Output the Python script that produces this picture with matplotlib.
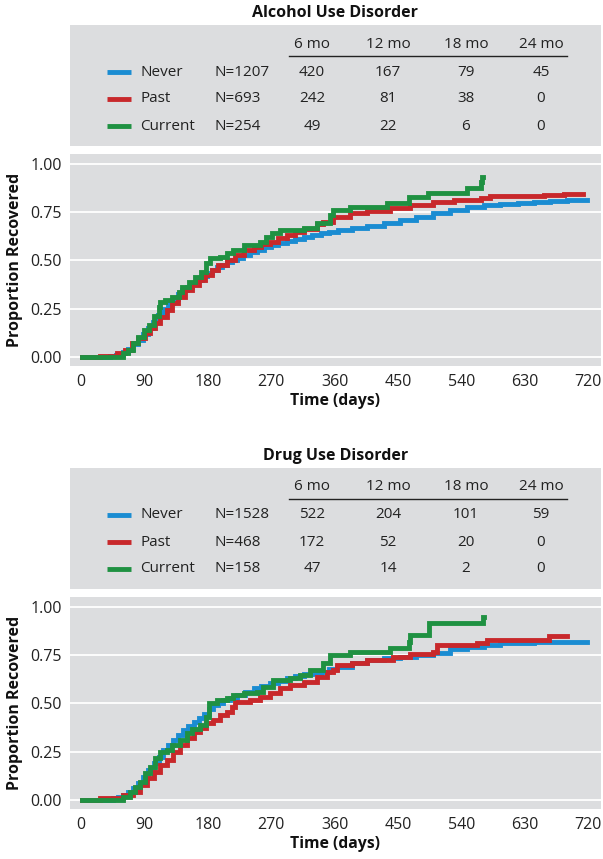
import matplotlib
matplotlib.use("Agg")
import matplotlib.pyplot as plt

plt.rcParams['font.family'] = ['Open Sans', 'DejaVu Sans']

# ---------------- data ----------------
groups = ["Never", "Past", "Current"]
colors = ["#1a8cd2", "#c8282b", "#1f9142"]
col_headers = ["6 mo", "12 mo", "18 mo", "24 mo"]

alc_title = "Alcohol Use Disorder"
alc_n = [1207, 693, 254]
alc_risk = [[420, 167, 79, 45], [242, 81, 38, 0], [49, 22, 6, 0]]

drug_title = "Drug Use Disorder"
drug_n = [1528, 468, 158]
drug_risk = [[522, 204, 101, 59], [172, 52, 20, 0], [47, 14, 2, 0]]

alc_never_t = [1, 41, 50, 60, 67, 74, 81, 88, 95, 102, 109, 116, 123, 130, 137, 144, 151, 158, 165, 172,
               179, 186, 193, 200, 207, 214, 221, 230, 240, 250, 260, 270, 280, 292, 304, 316, 328, 340,
               352, 365, 385, 406, 430, 453, 476, 500, 524, 548, 572, 595, 620, 643, 666, 690, 718]
alc_never_y = [0, 0.005, 0.012, 0.025, 0.04, 0.065, 0.09, 0.12, 0.15, 0.18, 0.215, 0.25, 0.278, 0.30,
               0.325, 0.345, 0.365, 0.385, 0.40, 0.418, 0.435, 0.45, 0.465, 0.478, 0.49, 0.502, 0.515,
               0.528, 0.542, 0.555, 0.568, 0.58, 0.59, 0.602, 0.612, 0.622, 0.632, 0.642, 0.65, 0.658,
               0.667, 0.677, 0.692, 0.71, 0.727, 0.745, 0.762, 0.776, 0.788, 0.795, 0.8, 0.805, 0.81,
               0.815, 0.815]

alc_past_t = [1, 27, 51, 62, 72, 81, 91, 98, 105, 112, 122, 129, 138, 148, 157, 167, 176, 186, 195, 207,
              219, 232, 245, 256, 268, 280, 292, 304, 316, 335, 344, 358, 382, 406, 439, 467, 500, 529,
              567, 581, 643, 657, 685, 712]
alc_past_y = [0, 0.007, 0.019, 0.036, 0.07, 0.097, 0.123, 0.149, 0.174, 0.209, 0.244, 0.278, 0.313,
              0.347, 0.373, 0.399, 0.425, 0.45, 0.477, 0.503, 0.528, 0.552, 0.572, 0.585, 0.598, 0.615,
              0.632, 0.647, 0.662, 0.69, 0.70, 0.727, 0.744, 0.758, 0.77, 0.788, 0.805, 0.813, 0.822,
              0.834, 0.834, 0.839, 0.845, 0.845]

alc_curr_t = [1, 53, 60, 67, 74, 81, 89, 96, 103, 110, 112, 119, 129, 139, 143, 153, 162, 171, 178, 183,
              197, 207, 216, 231, 254, 262, 271, 283, 316, 335, 354, 358, 382, 434, 465, 493, 548, 567,
              569, 571]
alc_curr_y = [0, 0.0, 0.019, 0.036, 0.07, 0.105, 0.14, 0.166, 0.21, 0.26, 0.287, 0.295, 0.313, 0.339,
              0.364, 0.39, 0.416, 0.442, 0.485, 0.511, 0.52, 0.537, 0.554, 0.58, 0.598, 0.62, 0.64, 0.66,
              0.667, 0.693, 0.735, 0.76, 0.775, 0.796, 0.83, 0.848, 0.874, 0.908, 0.934, 0.934]

drug_never_t = [1, 46, 53, 60, 67, 74, 81, 88, 95, 103, 110, 117, 124, 131, 138, 145, 152, 160, 167, 174,
                181, 188, 195, 202, 211, 221, 233, 245, 256, 268, 280, 292, 304, 316, 328, 340, 352, 363,
                385, 406, 430, 453, 476, 500, 524, 548, 572, 595, 620, 643, 680, 718]
drug_never_y = [0, 0.009, 0.017, 0.026, 0.04, 0.06, 0.09, 0.12, 0.155, 0.19, 0.225, 0.259, 0.285, 0.31,
                0.336, 0.362, 0.384, 0.405, 0.427, 0.448, 0.47, 0.491, 0.504, 0.517, 0.53, 0.544, 0.562,
                0.579, 0.592, 0.604, 0.617, 0.63, 0.64, 0.651, 0.658, 0.665, 0.677, 0.69, 0.708, 0.725,
                0.735, 0.743, 0.753, 0.763, 0.78, 0.795, 0.803, 0.812, 0.816, 0.82, 0.82, 0.82]

drug_past_t = [1, 27, 46, 60, 74, 84, 93, 103, 112, 122, 131, 141, 150, 160, 169, 178, 188, 197, 207, 214,
               219, 240, 254, 268, 283, 297, 316, 335, 349, 358, 363, 385, 406, 443, 467, 500, 505, 562,
               576, 664, 690]
drug_past_y = [0, 0.009, 0.012, 0.026, 0.043, 0.078, 0.112, 0.147, 0.181, 0.207, 0.25, 0.284, 0.319,
               0.353, 0.371, 0.397, 0.414, 0.44, 0.457, 0.483, 0.509, 0.518, 0.535, 0.553, 0.579, 0.596,
               0.613, 0.639, 0.661, 0.674, 0.70, 0.712, 0.725, 0.743, 0.756, 0.769, 0.803, 0.812, 0.829,
               0.85, 0.85]

drug_curr_t = [1, 53, 60, 70, 77, 84, 91, 98, 105, 112, 122, 129, 141, 150, 157, 169, 178, 181, 193, 207,
               216, 231, 250, 259, 273, 297, 311, 325, 344, 354, 382, 439, 465, 467, 494, 570, 572]
drug_curr_y = [0, 0, 0.017, 0.043, 0.069, 0.095, 0.138, 0.172, 0.216, 0.25, 0.259, 0.284, 0.31, 0.345,
               0.37, 0.388, 0.431, 0.50, 0.517, 0.526, 0.543, 0.553, 0.561, 0.587, 0.622, 0.63, 0.648,
               0.674, 0.708, 0.751, 0.769, 0.786, 0.82, 0.855, 0.915, 0.95, 0.95]

x_ticks = [0, 90, 180, 270, 360, 450, 540, 630, 720]
y_ticks = [0.0, 0.25, 0.50, 0.75, 1.00]
y_tick_labels = ["0.00", "0.25", "0.50", "0.75", "1.00"]

# ---------------- layout ----------------
W, H = 603, 859
BG = "#dcdddf"
TXT = "#222222"
fig = plt.figure(figsize=(W / 100, H / 100), dpi=100)
fig.patch.set_facecolor("white")

def frac(px_left, px_top, px_w, px_h):
    return [px_left / W, 1 - (px_top + px_h) / H, px_w / W, px_h / H]

def draw_table(top, title, ns, risk):
    box_h = 121
    ax = fig.add_axes(frac(70, top, 531, box_h))
    ax.set_facecolor(BG)
    for s in ax.spines.values():
        s.set_visible(False)
    ax.set_xticks([]); ax.set_yticks([])
    ax.set_xlim(70, 601)
    ax.set_ylim(box_h, 0)
    fig.text(335.5 / W, 1 - (top - 12) / H, title, ha="center", va="center",
             fontsize=11.5, fontweight="bold", color="#111111")
    col_x = [312, 388, 466, 541]
    for cx, h in zip(col_x, col_headers):
        ax.text(cx, 19, h, ha="center", va="center", fontsize=11, color=TXT)
    ax.plot([289, 567], [31, 31], color=TXT, lw=1.0)
    row_y = [47, 74, 101]
    for ry, g, c, n, r in zip(row_y, groups, colors, ns, risk):
        ax.plot([107, 131], [ry, ry], color=c, lw=3.5, solid_capstyle="butt")
        ax.text(140, ry, g, ha="left", va="center", fontsize=11, color=TXT)
        ax.text(214, ry, f"N={n}", ha="left", va="center", fontsize=11, color=TXT)
        for cx, v in zip(col_x, r):
            ax.text(cx, ry, str(v), ha="center", va="center", fontsize=11, color=TXT)

def draw_km(top, series):
    ax = fig.add_axes(frac(70, top, 531, 212))
    ax.set_facecolor(BG)
    for s in ax.spines.values():
        s.set_visible(False)
    ax.set_xlim(-15.6, 738)
    ax.set_ylim(-0.047, 1.052)
    for yt in y_ticks:
        ax.axhline(yt, color="white", lw=1.3, zorder=1)
    for (t, y), c in zip(series, colors):
        ax.step(t, y, where="post", color=c, lw=3.5, zorder=3, solid_joinstyle="miter")
    ax.set_xticks(x_ticks)
    ax.set_xticklabels([str(v) for v in x_ticks])
    ax.set_yticks(y_ticks)
    ax.set_yticklabels(y_tick_labels)
    ax.tick_params(length=0, labelsize=11.5, labelcolor=TXT, pad=6)
    ax.set_xlabel("Time (days)", fontsize=11.3, fontweight="bold", color="#111111", labelpad=2)
    ax.set_ylabel("Proportion Recovered", fontsize=11.5, fontweight="bold", color="#111111", labelpad=5)
    return ax

draw_table(25, alc_title, alc_n, alc_risk)
draw_km(154, [(alc_never_t, alc_never_y), (alc_past_t, alc_past_y), (alc_curr_t, alc_curr_y)])
draw_table(468, drug_title, drug_n, drug_risk)
draw_km(597, [(drug_never_t, drug_never_y), (drug_past_t, drug_past_y), (drug_curr_t, drug_curr_y)])

fig.savefig("out.png", dpi=100, facecolor="white")
